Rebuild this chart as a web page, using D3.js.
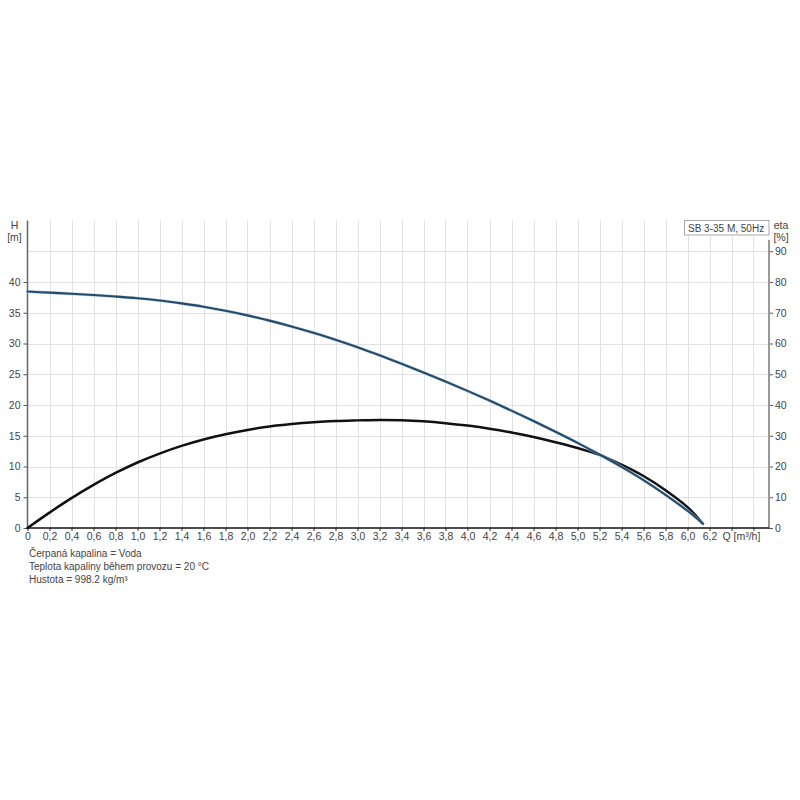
<!DOCTYPE html>
<html>
<head>
<meta charset="utf-8">
<script src="https://cdn.jsdelivr.net/npm/d3@7"></script>
<style>
  html, body { margin: 0; padding: 0; background: #fff; }
  text { font-family: "Liberation Sans", Arial, sans-serif; }
</style>
</head>
<body>
<svg id="chart" width="800" height="800"></svg>
<script>
// ---- data ----
const flowQ = [0, 0.2, 0.4, 0.6, 0.8, 1.0, 1.2, 1.4, 1.6, 1.8, 2.0, 2.2, 2.4, 2.6, 2.8, 3.0,
               3.2, 3.4, 3.6, 3.8, 4.0, 4.2, 4.4, 4.6, 4.8, 5.0, 5.2, 5.4, 5.6, 5.8, 6.0, 6.14];
const headH = [38.45, 38.27, 38.08, 37.88, 37.64, 37.36, 36.99, 36.52, 35.98, 35.33, 34.57, 33.72,
               32.77, 31.73, 30.6, 29.38, 28.08, 26.72, 25.3, 23.83, 22.3, 20.72, 19.08, 17.4,
               15.65, 13.85, 11.95, 9.95, 7.8, 5.4, 2.8, 0.7];
const effEta = [0, 5.0, 9.7, 14.0, 17.9, 21.3, 24.2, 26.7, 28.8, 30.5, 31.9, 33.0, 33.8, 34.4,
                34.8, 35.0, 35.15, 35.05, 34.7, 34.1, 33.3, 32.3, 31.05, 29.6, 27.9, 26.0, 23.8,
                20.6, 16.9, 12.3, 6.8, 1.4];
const xTicks = [0, 0.2, 0.4, 0.6, 0.8, 1.0, 1.2, 1.4, 1.6, 1.8, 2.0, 2.2, 2.4, 2.6, 2.8, 3.0,
                3.2, 3.4, 3.6, 3.8, 4.0, 4.2, 4.4, 4.6, 4.8, 5.0, 5.2, 5.4, 5.6, 5.8, 6.0, 6.2];
const xGrid = [0.2, 0.4, 0.6, 0.8, 1.0, 1.2, 1.4, 1.6, 1.8, 2.0, 2.2, 2.4, 2.6, 2.8, 3.0, 3.2,
               3.4, 3.6, 3.8, 4.0, 4.2, 4.4, 4.6, 4.8, 5.0, 5.2, 5.4, 5.6, 5.8, 6.0, 6.2, 6.4, 6.6];
const hTicks = [0, 5, 10, 15, 20, 25, 30, 35, 40];
const hGrid = [5, 10, 15, 20, 25, 30, 35, 40, 45];
const etaTicks = [0, 10, 20, 30, 40, 50, 60, 70, 80, 90];
const titleLabel = "SB 3-35 M, 50Hz";
const infoLines = ["Čerpaná kapalina = Voda", "Teplota kapaliny během provozu = 20 °C", "Hustota = 998.2 kg/m³"];

// ---- layout ----
const L = 27.5, R = 769, T = 220.5, B = 528;
const svg = d3.select("#chart");
svg.append("rect").attr("width", 800).attr("height", 800).attr("fill", "#fff");

const x = d3.scaleLinear().domain([0, (R - L) / 110]).range([L, R]);
const yH = d3.scaleLinear().domain([0, 50]).range([B, T]);
const yE = d3.scaleLinear().domain([0, 100]).range([B, T]);
const FS = "10.5px";

// grid
const grid = svg.append("g").attr("stroke", "#e2e2e2").attr("stroke-width", 1);
grid.selectAll("line.v").data(xGrid).join("line")
  .attr("x1", d => Math.round(x(d)) + 0.5).attr("x2", d => Math.round(x(d)) + 0.5)
  .attr("y1", T).attr("y2", B);
grid.selectAll("line.h").data(hGrid).join("line")
  .attr("y1", d => Math.round(yH(d)) + 0.5).attr("y2", d => Math.round(yH(d)) + 0.5)
  .attr("x1", L).attr("x2", R);

// left axis
const gl = svg.append("g").attr("transform", `translate(${L},0)`)
  .call(d3.axisLeft(yH).tickValues(hTicks).tickSize(4).tickPadding(3).tickFormat(d3.format("d")));
gl.select(".domain").remove();
gl.selectAll(".tick line").attr("stroke", "#555");
gl.selectAll(".tick text").attr("fill", "#444").style("font-size", FS)
  .style("font-family", "'Liberation Sans', Arial, sans-serif");
svg.append("line").attr("x1", L).attr("x2", L).attr("y1", T).attr("y2", B)
  .attr("stroke", "#666").attr("stroke-width", 1.5);

// right axis
const gr = svg.append("g").attr("transform", `translate(${R},0)`)
  .call(d3.axisRight(yE).tickValues(etaTicks).tickSize(4).tickPadding(2).tickFormat(d3.format("d")));
gr.select(".domain").remove();
gr.selectAll(".tick line").attr("stroke", "#555");
gr.selectAll(".tick text").attr("fill", "#444").style("font-size", FS)
  .style("font-family", "'Liberation Sans', Arial, sans-serif");
svg.append("line").attr("x1", R).attr("x2", R).attr("y1", 240).attr("y2", B)
  .attr("stroke", "#999").attr("stroke-width", 2);

// bottom axis
const gb = svg.append("g").attr("transform", `translate(0,${B})`)
  .call(d3.axisBottom(x).tickValues(xGrid.concat([0])).tickSize(3).tickPadding(2)
    .tickFormat(d => xTicks.some(t => Math.abs(t - d) < 1e-9) ? (d === 0 ? "0" : d3.format(".1f")(d).replace(".", ",")) : ""));
gb.select(".domain").remove();
gb.selectAll(".tick line").attr("stroke", "#333");
gb.selectAll(".tick text").attr("fill", "#444").style("font-size", FS)
  .style("font-family", "'Liberation Sans', Arial, sans-serif");
svg.append("line").attr("x1", L).attr("x2", R).attr("y1", B).attr("y2", B)
  .attr("stroke", "#111").attr("stroke-width", 1.5);

// axis labels
const lab = svg.append("g").attr("fill", "#444").style("font-size", FS);
lab.append("text").attr("x", 14.5).attr("y", 229).attr("text-anchor", "middle").text("H");
lab.append("text").attr("x", 14.5).attr("y", 241).attr("text-anchor", "middle").text("[m]");
lab.append("text").attr("x", 781).attr("y", 229).attr("text-anchor", "middle").text("eta");
lab.append("text").attr("x", 781).attr("y", 241).attr("text-anchor", "middle").text("[%]");
lab.append("text").attr("x", x(6.49)).attr("y", 540).attr("text-anchor", "middle").text("Q [m³/h]");

// title box
const tb = svg.append("g");
const tt = tb.append("text").attr("x", 688).attr("y", 232).attr("fill", "#444")
  .style("font-size", "10px").text(titleLabel);
const bb = tt.node().getBBox();
tb.insert("rect", "text").attr("x", bb.x - 3.5).attr("y", T).attr("width", R - (bb.x - 3.5)).attr("height", 14.5)
  .attr("fill", "#fff").attr("stroke", "#aaa").attr("stroke-width", 1);

// curves
const lineH = d3.line().x((d, i) => x(flowQ[i])).y(d => yH(d)).curve(d3.curveCatmullRom.alpha(0.5));
const lineE = d3.line().x((d, i) => x(flowQ[i])).y(d => yE(d)).curve(d3.curveCatmullRom.alpha(0.5));
svg.append("path").datum(effEta).attr("d", lineE).attr("fill", "none")
  .attr("stroke", "#111").attr("stroke-width", 2.5).attr("stroke-linecap", "round");
svg.append("path").datum(headH).attr("d", lineH).attr("fill", "none")
  .attr("stroke", "#a8c9de").attr("stroke-width", 3.2).attr("stroke-opacity", 0.7).attr("stroke-linecap", "round");
svg.append("path").datum(headH).attr("d", lineH).attr("fill", "none")
  .attr("stroke", "#264a69").attr("stroke-width", 2.1).attr("stroke-linecap", "round");

// info text
const info = svg.append("g").attr("fill", "#444").style("font-size", "10px");
info.selectAll("text").data(infoLines).join("text")
  .attr("x", 29).attr("y", (d, i) => 557 + i * 13).text(d => d);
</script>
</body>
</html>
